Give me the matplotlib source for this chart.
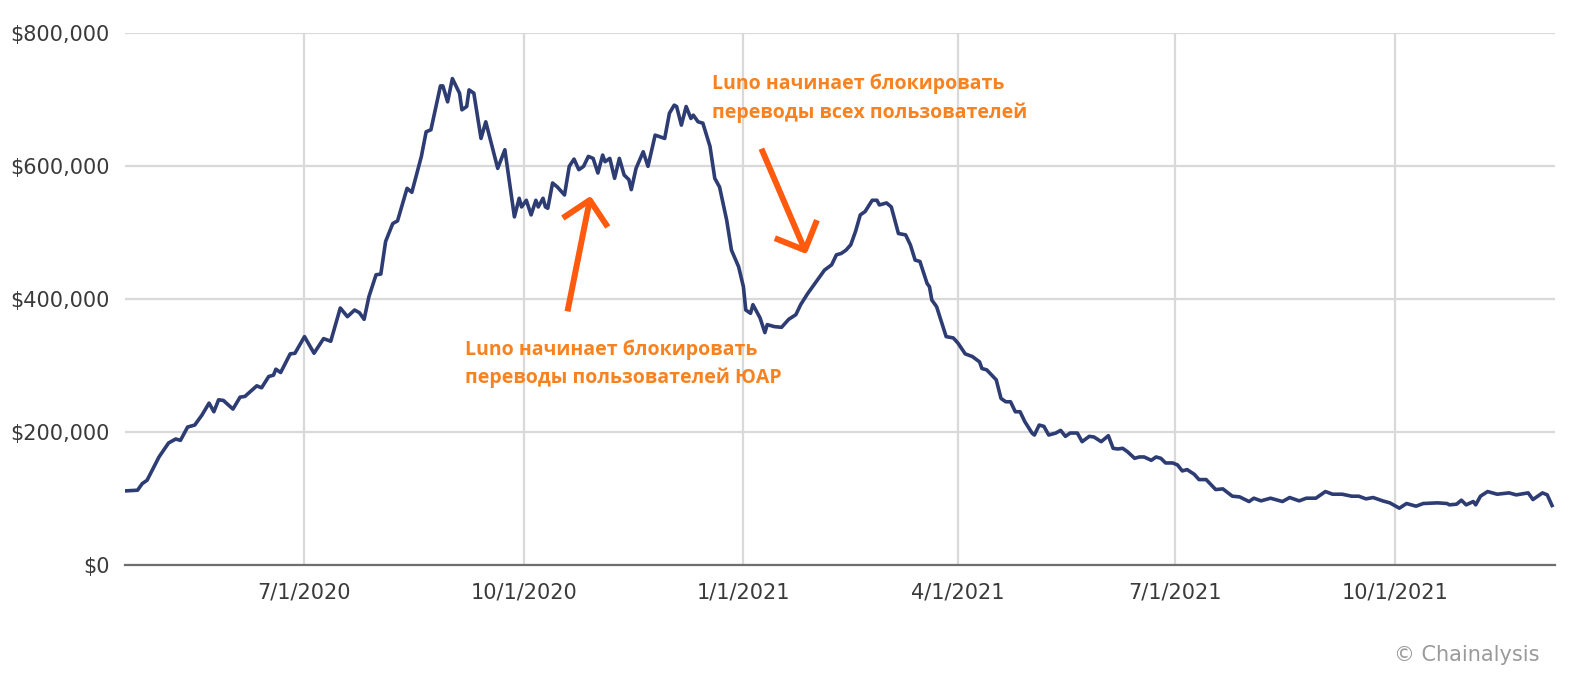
import matplotlib
matplotlib.use("Agg")
import matplotlib.pyplot as plt
import pandas as pd

# ---- data (values in thousands of USD) ----
dates_2020 = [
    "04-17", "04-22", "04-24", "04-26", "05-01", "05-05", "05-08", "05-10", "05-13", "05-16",
    "05-19", "05-22", "05-24", "05-26", "05-28", "06-01", "06-04", "06-06", "06-11", "06-13",
    "06-16", "06-18", "06-19", "06-21", "06-25", "06-27", "07-01", "07-05", "07-09", "07-12",
    "07-16", "07-19", "07-22", "07-24", "07-26", "07-28", "07-31", "08-02", "08-04", "08-07",
    "08-09", "08-13", "08-15", "08-19", "08-21", "08-23", "08-27", "08-28", "08-30", "09-01",
    "09-04", "09-05", "09-07", "09-08", "09-10", "09-13", "09-15", "09-20", "09-23", "09-27",
    "09-29", "09-30", "10-02", "10-04", "10-06", "10-07", "10-09", "10-10", "10-11", "10-13",
    "10-15", "10-18", "10-20", "10-22", "10-24", "10-26", "10-28", "10-30", "11-01", "11-03",
    "11-04", "11-06", "11-08", "11-10", "11-12", "11-14", "11-15", "11-17", "11-20", "11-22",
    "11-25", "11-29", "12-01", "12-03", "12-04", "12-06", "12-08", "12-10", "12-11", "12-13",
    "12-15", "12-18", "12-20", "12-22", "12-25", "12-27", "12-30",
]
values_2020 = [
    111, 112, 122, 127, 162, 183, 189, 187, 207, 210,
    225, 243, 230, 248, 247, 234, 252, 253, 269, 266,
    283, 285, 294, 289, 317, 318, 343, 318, 340, 336,
    386, 373, 383, 379, 369, 403, 436, 437, 486, 513,
    517, 566, 560, 614, 651, 654, 720, 720, 696, 731,
    709, 684, 689, 714, 709, 641, 666, 596, 624, 523,
    551, 538, 548, 526, 548, 538, 551, 538, 536, 574,
    568, 556, 599, 610, 594, 599, 614, 611, 589, 616,
    606, 611, 581, 611, 586, 579, 564, 596, 621, 599,
    646, 641, 679, 691, 689, 661, 689, 671, 676, 666,
    664, 629, 581, 568, 518, 473, 448,
]
dates_2021 = [
    "01-01", "01-02", "01-04", "01-05", "01-08", "01-10", "01-11", "01-14", "01-17", "01-20",
    "01-23", "01-25", "01-28", "02-01", "02-04", "02-07", "02-09", "02-11", "02-13", "02-15",
    "02-17", "02-19", "02-21", "02-24", "02-26", "02-27", "03-02", "03-04", "03-07", "03-10",
    "03-12", "03-14", "03-16", "03-19", "03-20", "03-21", "03-23", "03-27", "03-30", "04-01",
    "04-04", "04-07", "04-10", "04-11", "04-13", "04-17", "04-19", "04-21", "04-23", "04-25",
    "04-27", "04-29", "05-02", "05-03", "05-05", "05-07", "05-09", "05-12", "05-14", "05-16",
    "05-18", "05-21", "05-23", "05-26", "05-28", "05-31", "06-03", "06-05", "06-07", "06-09",
    "06-11", "06-14", "06-16", "06-18", "06-21", "06-23", "06-25", "06-27", "06-30", "07-02",
    "07-04", "07-06", "07-09", "07-11", "07-14", "07-18", "07-21", "07-25", "07-28", "08-01",
    "08-03", "08-06", "08-10", "08-15", "08-18", "08-22", "08-25", "08-29", "08-31", "09-02",
    "09-05", "09-09", "09-13", "09-16", "09-19", "09-22", "09-26", "09-29", "10-03", "10-06",
    "10-10", "10-13", "10-19", "10-23", "10-24", "10-27", "10-29", "10-31", "11-03", "11-04",
    "11-06", "11-09", "11-13", "11-18", "11-21", "11-26", "11-28", "12-02", "12-04", "12-06",
]
values_2021 = [
    418, 383, 378, 391, 371, 349, 361, 358, 357, 369,
    376, 391, 408, 428, 443, 451, 466, 468, 473, 481,
    501, 526, 531, 548, 548, 541, 544, 538, 498, 496,
    481, 458, 456, 423, 418, 398, 388, 343, 341, 333,
    317, 313, 305, 295, 293, 278, 250, 245, 245, 230,
    230, 215, 198, 195, 210, 208, 195, 198, 202, 193,
    198, 198, 185, 193, 192, 185, 194, 175, 174, 175,
    170, 160, 162, 162, 157, 162, 160, 153, 153, 150,
    141, 143, 136, 128, 128, 113, 114, 103, 102, 95,
    100, 96, 100, 95, 101, 96, 100, 100, 105, 110,
    106, 106, 103, 103, 99, 101, 96, 93, 85, 92,
    88, 92, 93, 92, 90, 91, 97, 90, 95, 90,
    103, 110, 106, 108, 105, 108, 98, 108, 105, 89,
]

x_ticks = ["2020-07-01", "2020-10-01", "2021-01-01", "2021-04-01", "2021-07-01", "2021-10-01"]
x_tick_labels = ["7/1/2020", "10/1/2020", "1/1/2021", "4/1/2021", "7/1/2021", "10/1/2021"]
y_ticks = [0, 200000, 400000, 600000, 800000]
y_tick_labels = ["$0", "$200,000", "$400,000", "$600,000", "$800,000"]

note_sa = "Luno начинает блокировать\nпереводы пользователей ЮАР"
note_all = "Luno начинает блокировать\nпереводы всех пользователей"
credit = "© Chainalysis"

# ---- build series ----
dates = pd.to_datetime(["2020-" + d for d in dates_2020] + ["2021-" + d for d in dates_2021])
values = [v * 1000 for v in values_2020 + values_2021]

LINE = "#2D3C73"
GRID = "#D9D9D9"
TXT = "#3A3A3A"
NOTE = "#F7821F"
ARROW = "#FF5A0E"

fig = plt.figure(figsize=(15.75, 6.83), dpi=100)
ax = fig.add_axes([125 / 1575, 1 - 564.7 / 683, (1555 - 125) / 1575, (564.7 - 32.7) / 683])

ax.plot(dates, values, color=LINE, lw=2.6, solid_joinstyle="round", zorder=3)

ax.set_xlim(pd.Timestamp("2020-04-16 18:00"), pd.Timestamp("2021-12-07 06:00"))
ax.set_ylim(0, 800000)

ax.set_xticks(pd.to_datetime(x_ticks))
ax.set_xticklabels(x_tick_labels)
ax.set_yticks(y_ticks)
ax.set_yticklabels(y_tick_labels)

ax.grid(True, color=GRID, lw=1.6, zorder=0)
ax.set_axisbelow(True)
for s in ["top", "right", "left"]:
    ax.spines[s].set_visible(False)
ax.spines["bottom"].set_color("#6E6E6E")
ax.spines["bottom"].set_linewidth(1.6)
ax.spines["bottom"].set_zorder(2)

ax.tick_params(axis="both", length=0, labelsize=15, labelcolor=TXT)
ax.tick_params(axis="x", pad=13)
ax.tick_params(axis="y", pad=11)

# ---- annotations ----
fig.text(465 / 1575, 1 - 339 / 683, note_sa, color=NOTE, fontsize=14, fontweight="bold",
         family=["Open Sans", "DejaVu Sans"], ha="left", va="top", linespacing=1.5)
fig.text(712 / 1575, 1 - 74 / 683, note_all, color=NOTE, fontsize=14, fontweight="bold",
         family=["Open Sans", "DejaVu Sans"], ha="left", va="top", linespacing=1.5)

arrow_kw = dict(arrowstyle="->,head_length=1,head_width=1", color=ARROW, lw=4.3,
                mutation_scale=16.5, shrinkA=0, shrinkB=0, capstyle="butt")
ax.annotate("", xy=(590.6, 683 - 195.9), xycoords="figure pixels",
            xytext=(567.5, 683 - 311.4), textcoords="figure pixels", arrowprops=arrow_kw)
ax.annotate("", xy=(806.6, 683 - 254.1), xycoords="figure pixels",
            xytext=(761.4, 683 - 148.7), textcoords="figure pixels", arrowprops=arrow_kw)

fig.text(1540 / 1575, 1 - 655 / 683, credit, color="#9A9A9A", fontsize=15,
         ha="right", va="center")

fig.savefig("out.png", dpi=100, facecolor="white")
